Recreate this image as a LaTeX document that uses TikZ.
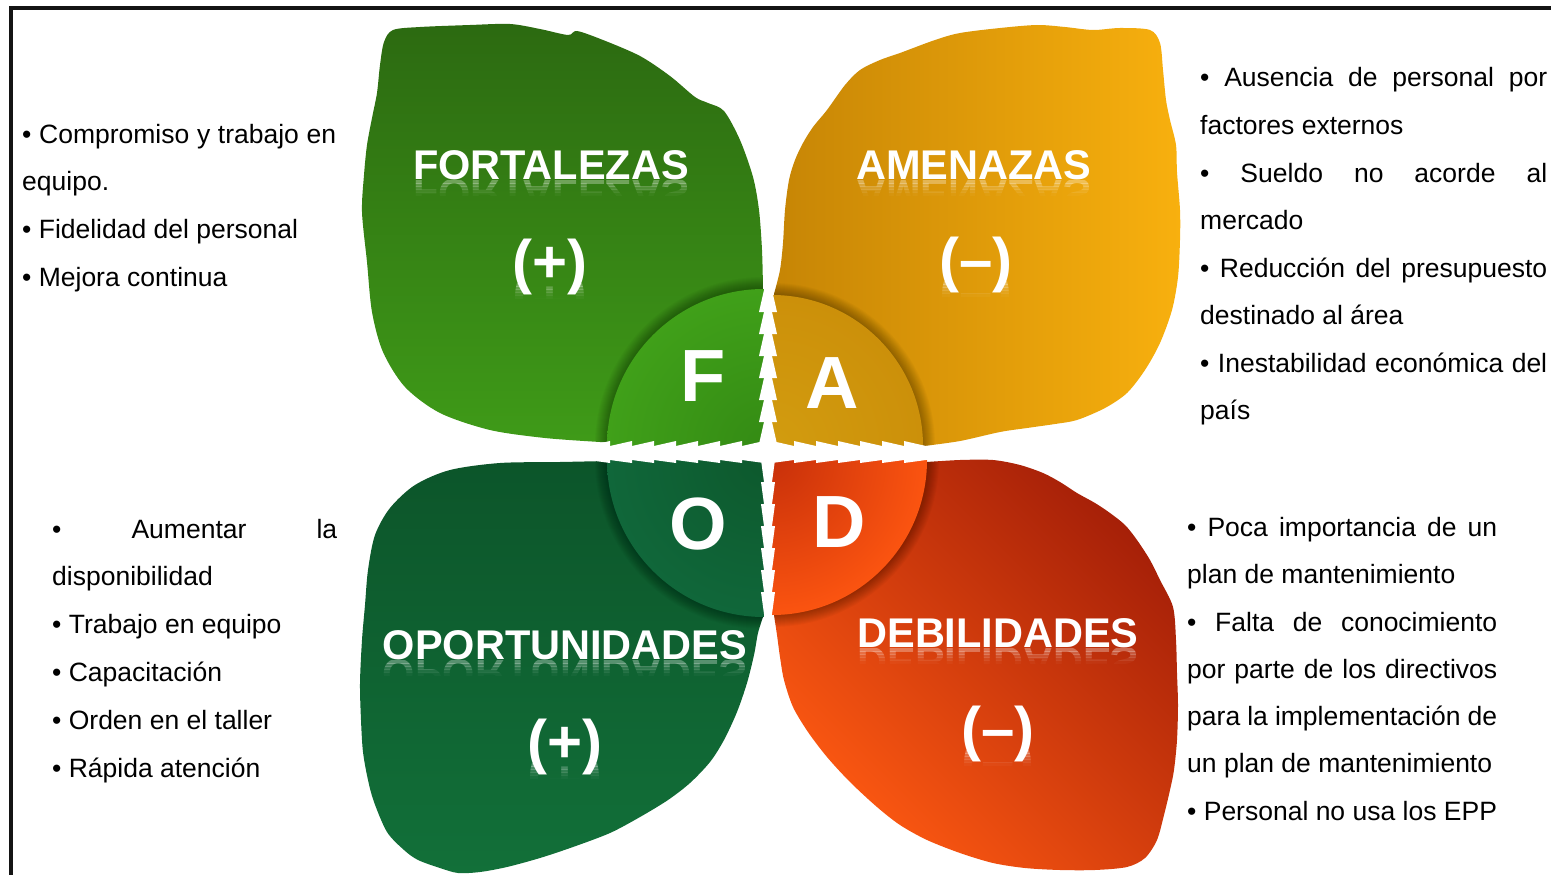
\documentclass[tikz,border=0pt]{standalone}
\usepackage{fontspec}
\setmainfont{Liberation Sans}
\usepackage{graphicx}

% leaf and disc colours
\definecolor{fTop}{HTML}{2C6A11}
\definecolor{fBot}{HTML}{3F9B18}
\definecolor{fDiscIn}{HTML}{348B14}
\definecolor{fDiscOut}{HTML}{40A019}
\definecolor{aDark}{HTML}{C68505}
\definecolor{aMid}{HTML}{D4970A}
\definecolor{aBright}{HTML}{F8B00E}
\definecolor{aDiscIn}{HTML}{D29C0F}
\definecolor{aDiscOut}{HTML}{CC900A}
\definecolor{oTop}{HTML}{0C552A}
\definecolor{oBot}{HTML}{127039}
\definecolor{oDiscIn}{HTML}{0D592D}
\definecolor{oDiscOut}{HTML}{10673A}
\definecolor{dDark}{HTML}{A62008}
\definecolor{dBright}{HTML}{FF5A12}
\definecolor{dDiscIn}{HTML}{C8300A}
\definecolor{dDiscOut}{HTML}{FB5410}

% white lettering with a fading mirror image under its baseline
\newcommand\glossytext[5]{% name, x, baseline y, style, text
  \node[#4] (#1) at (#2,#3) {#5};
  \foreach \ya/\yb/\op [count=\k] in {1/4/0.30,4/7/0.22,7/10/0.14,10/13/0.08,13/16/0.03}{%
    \begin{scope}
      \clip (#2-330,#3+\ya) rectangle (#2+330,#3+\yb);
      \node[#4, opacity=\op] (#1-m\k) at (#2,#3) {\scalebox{1}[-1]{#5}};
    \end{scope}
  }%
}

% quarter disc with a soft shadow around its arc
\newcommand\quarterdisc[8]{% leaf style, cx, cy, radius, far corner x, far corner y, inner, outer
  \begin{scope}
    \clip[#1];
    \clip (#2,#3) rectangle (#5,#6);
    \foreach \dr in {1,2,...,12}{\fill[black,opacity=0.028] (#2,#3) circle ({#4+\dr});}
  \end{scope}
  \begin{scope}
    \clip (#2,#3) rectangle (#5,#6);
    \shade[inner color=#7, outer color=#8] (#2,#3) circle (#4);
  \end{scope}
}

\begin{document}
\begin{tikzpicture}[x=1pt,y=-1pt,
  bodytext/.style={anchor=base west, inner sep=0pt, font=\fontsize{26.5}{30}\selectfont, text=black},
  titletext/.style={anchor=base, inner sep=0pt, font=\fontsize{41.5}{46}\selectfont\bfseries, text=white},
  signtext/.style={anchor=base, inner sep=0pt, font=\fontsize{60}{66}\selectfont\bfseries, text=white},
  initialtext/.style={anchor=base, inner sep=0pt, font=\fontsize{74}{80}\selectfont\bfseries, text=white},
  frameline/.style={line width=4pt, draw=black!92, line join=miter},
  leafF/.style={insert path={plot[smooth, tension=0.5] coordinates {(600,442) (545,438) (490,430) (440,413) (405,387) (383,352) (372,312) (367,262) (362,212) (364,175) (367,145) (372,118) (377,93) (380,65) (384,42) (393,30) (420,27) (470,25) (510,24) (540,29) (568,35) (577,31) (603,40) (640,56) (670,76) (695,97) (708,103) (724,111) (740,140) (753,177) (759,210) (762,250) (763,289)} -- (764,446) -- cycle}},
  leafA/.style={insert path={plot[smooth, tension=0.5] coordinates {(924,446) (960,441) (1000,432) (1027,428) (1055,424) (1077,420) (1105,408) (1127,393) (1145,370) (1160,343) (1172,310) (1178,277) (1180,240) (1180,210) (1177,172) (1176,145) (1170,120) (1166,100) (1163,70) (1160,43) (1150,30) (1120,28) (1093,30) (1065,27) (1037,25) (1000,28) (960,33) (935,40) (900,53) (880,60) (860,70) (845,85) (827,110) (813,127) (803,143) (795,160) (789,180) (785,210) (783,243) (780,270) (774,294)} -- (772,446) -- cycle}},
  leafO/.style={insert path={plot[smooth, tension=0.5] coordinates {(607,461) (560,462) (500,463) (450,470) (415,485) (390,508) (375,535) (368,570) (365,605) (362,640) (360,683) (361,720) (363,752) (368,780) (374,802) (387,832) (404,850) (418,860) (440,868) (458,873) (480,872) (507,867) (540,858) (573,847) (610,833) (640,817) (668,800) (690,783) (710,762) (724,740) (737,712) (747,683) (754,655) (758,633) (763,617)} -- (764,460) -- cycle}},
  leafD/.style={insert path={plot[smooth, tension=0.5] coordinates {(927,462) (960,460) (993,460) (1020,465) (1043,473) (1060,482) (1077,493) (1095,503) (1110,513) (1125,525) (1137,540) (1150,560) (1160,580) (1173,607) (1176,640) (1177,673) (1178,705) (1177,740) (1174,770) (1170,790) (1164,815) (1157,840) (1145,858) (1127,867) (1095,870) (1060,870) (1025,868) (993,863) (960,853) (927,840) (900,825) (877,807) (850,782) (827,757) (808,732) (793,707) (784,680) (780,657) (777,635) (774,615)} -- (772,460) -- cycle}}
]
\useasboundingbox (0,0) rectangle (1551,875);

% page frame
\draw[frameline] (10.5,880) -- (10.5,8.5) -- (1556,8.5);

% four leaves
\shade[leafF, top color=fTop, bottom color=fBot];
\shade[leafA, left color=aDark, middle color=aMid, right color=aBright];
\shade[leafO, top color=oTop, bottom color=oBot];
\shade[leafD, top color=dDark, bottom color=dBright, shading angle=-45];

% central quarter discs
\quarterdisc{leafF}{764}{446}{157}{560}{240}{fDiscIn}{fDiscOut}
\quarterdisc{leafA}{772}{446}{151}{976}{240}{aDiscIn}{aDiscOut}
\quarterdisc{leafO}{764}{460}{157}{560}{664}{oDiscIn}{oDiscOut}
\quarterdisc{leafD}{772}{460}{155}{976}{664}{dDiscIn}{dDiscOut}

% white seams with saw teeth
\fill[white] (764,275) rectangle (772,625);
\fill[white] (585,446) rectangle (935,460);
\foreach \y in {290,312,...,424}{
  \fill[white] (764,\y) -- (764,\y+22) -- (759,\y+22) -- cycle;
  \fill[white] (772,\y) -- (772,\y+22) -- (777,\y+22) -- cycle;
}
\foreach \y in {460,482,...,592}{
  \fill[white] (764,\y) -- (764,\y+22) -- (761,\y) -- cycle;
  \fill[white] (772,\y) -- (772,\y+22) -- (775,\y) -- cycle;
}
\foreach \x in {588,610,...,742}{
  \fill[white] (\x,446) -- (\x+22,446) -- (\x+22,441) -- cycle;
  \fill[white] (\x,460) -- (\x+22,460) -- (\x+22,463) -- cycle;
}
\foreach \x in {772,794,...,904}{
  \fill[white] (\x,446) -- (\x+22,446) -- (\x,441) -- cycle;
  \fill[white] (\x,460) -- (\x+22,460) -- (\x,463) -- cycle;
}

% initials
\node[initialtext] (iniF) at (703,401) {F};
\node[initialtext] (iniA) at (832,408) {A};
\node[initialtext] (iniO) at (698,549) {O};
\node[initialtext] (iniD) at (839,547) {D};

% leaf titles and signs
\glossytext{titF}{551}{179}{titletext}{FORTALEZAS}
\glossytext{titA}{974}{179}{titletext}{AMENAZAS}
\glossytext{titO}{565}{659}{titletext}{OPORTUNIDADES}
\glossytext{titD}{998}{647}{titletext}{DEBILIDADES}
\glossytext{sgnF}{550}{282}{signtext}{(+)}
\glossytext{sgnA}{976}{280}{signtext}{(–)}
\glossytext{sgnO}{565}{762}{signtext}{(+)}
\glossytext{sgnD}{998}{749}{signtext}{(–)}

% strengths
\node[bodytext] (f1) at (22,143) {\hbox to 314pt{• Compromiso y trabajo en}};
\node[bodytext] (f2) at (22,190) {equipo.};
\node[bodytext] (f3) at (22,238) {• Fidelidad del personal};
\node[bodytext] (f4) at (22,286) {• Mejora continua};

% threats
\node[bodytext] (a1) at (1200,87) {\hbox to 347pt{• Ausencia de personal por}};
\node[bodytext] (a2) at (1200,134) {factores externos};
\node[bodytext] (a3) at (1200,182) {\hbox to 347pt{• Sueldo no acorde al}};
\node[bodytext] (a4) at (1200,229) {mercado};
\node[bodytext] (a5) at (1200,277) {\hbox to 347pt{• Reducción del presupuesto}};
\node[bodytext] (a6) at (1200,324) {destinado al área};
\node[bodytext] (a7) at (1200,372) {\hbox to 347pt{• Inestabilidad económica del}};
\node[bodytext] (a8) at (1200,419) {país};

% opportunities
\node[bodytext] (o1) at (52,538) {\hbox to 285pt{• Aumentar la}};
\node[bodytext] (o2) at (52,585) {disponibilidad};
\node[bodytext] (o3) at (52,633) {• Trabajo en equipo};
\node[bodytext] (o4) at (52,681) {• Capacitación};
\node[bodytext] (o5) at (52,729) {• Orden en el taller};
\node[bodytext] (o6) at (52,777) {• Rápida atención};

% weaknesses
\node[bodytext] (d1) at (1187,536) {\hbox to 310pt{• Poca importancia de un}};
\node[bodytext] (d2) at (1187,583) {plan de mantenimiento};
\node[bodytext] (d3) at (1187,631) {\hbox to 310pt{• Falta de conocimiento}};
\node[bodytext] (d4) at (1187,678) {\hbox to 310pt{por parte de los directivos}};
\node[bodytext] (d5) at (1187,725) {\hbox to 310pt{para la implementación de}};
\node[bodytext] (d6) at (1187,772) {un plan de mantenimiento};
\node[bodytext] (d7) at (1187,820) {• Personal no usa los EPP};
\end{tikzpicture}
\end{document}
